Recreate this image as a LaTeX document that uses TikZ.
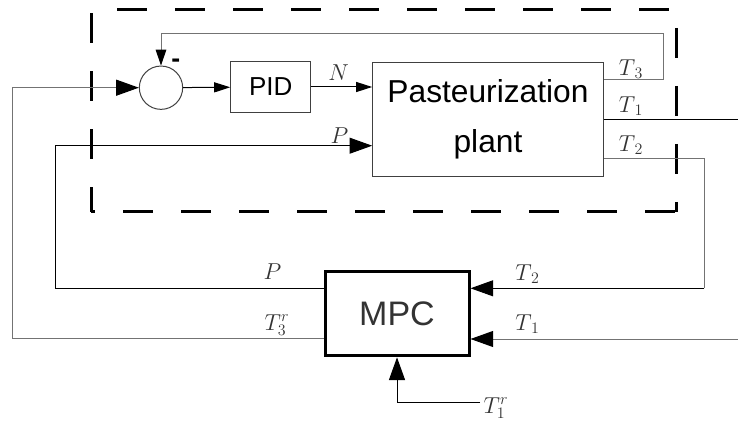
\documentclass[tikz,border=0pt]{standalone}
\usepackage{fontspec}
\setsansfont{Liberation Sans}
\usetikzlibrary{arrows.meta}

\tikzset{
  blk/.style={draw=black!75, line width=0.75pt, font=\sffamily},
  wire/.style={line width=0.75pt, draw=black},
  gwire/.style={line width=0.75pt, draw=black!55},
  bigtip/.style={-{Triangle[length=17pt,width=12pt,color=black]}},
  smalltip/.style={-{Triangle[length=12pt,width=7.5pt,color=black]}},
  lbl/.style={text=black!80, inner sep=0pt, font=\fontsize{16.5}{19}\selectfont},
  dashbox/.style={line width=2.25pt, dash pattern=on 22.5pt off 21pt},
}

\begin{document}
\begin{tikzpicture}[x=0.75pt,y=-0.75pt]
      \useasboundingbox (0,0) rectangle (738,424);

      % dashed frame round the inner loop
      \draw[dashbox, dash phase=24pt]   (91,9.3)   -- (676,9.3);
      \draw[dashbox, dash phase=29.5pt] (676,9.3)  -- (676,211.7);
      \draw[dashbox, dash phase=19.5pt] (91,211.7) -- (676,211.7);
      \draw[dashbox, dash phase=40.7pt] (91,9.3)   -- (91,211.7);

      % blocks
      \node[blk, circle, minimum size=32.5pt, inner sep=0pt] (sum) at (161,87.7) {};
      \node[font=\sffamily\bfseries\fontsize{20}{20}\selectfont, inner sep=0pt, anchor=base] (minus) at (175.7,67.5) {-};
      \node[blk, minimum width=60pt, minimum height=38pt,
            font=\sffamily\fontsize{19.5}{22}\selectfont] (pid) at (270.7,87) {PID};
      \node[blk, minimum width=173pt, minimum height=85.3pt, align=center,
            font=\sffamily\fontsize{23.8}{38}\selectfont] (plant) at (488,119.2) {Pasteurization\\plant};
      \node[blk, draw=black, line width=2.25pt, minimum width=108pt, minimum height=63.5pt, text=black!80,
            font=\sffamily\fontsize{25.5}{30}\selectfont] (mpc) at (397,313.5) {MPC};

      % turning points
      \coordinate (t3a)  at (663.3,80);
      \coordinate (t3b)  at (663.3,34);
      \coordinate (t1o)  at (738,119.2);
      \coordinate (t2a)  at (704.3,158.7);
      \coordinate (t2b)  at (704.3,288.3);
      \coordinate (t1i)  at (738,339);
      \coordinate (pa)   at (55,288.3);
      \coordinate (pb)   at (55,145.7);
      \coordinate (ra)   at (12.3,338.3);
      \coordinate (t1r)  at (480,402.3);

      % connectors
      \draw[wire, smalltip] (sum) -- (pid);
      \draw[wire, smalltip] (pid) -- (plant.west |- pid);
      \draw[gwire, -{Triangle[length=12pt,width=8pt,color=black]}] (plant.east |- t3a) -- (t3a) -- (t3b) -| (sum.north);
      \draw[wire] (plant.east) -- (t1o);
      \draw[gwire] (plant.east |- t2a) -- (t2a) -- (t2b);
      \draw[wire, bigtip] (t2b) -- (mpc.east |- t2b);
      \draw[gwire, bigtip] (t1i) -- (mpc.east |- t1i);
      \draw[wire, bigtip] (mpc.west |- pa) -- (pa) -- (pb) -- (plant.west |- pb);
      \draw[gwire, bigtip] (mpc.west |- ra) -- (ra) |- (sum.west);
      \draw[wire, bigtip] (t1r) -| (mpc.south);

      % signal labels
      \node[lbl] (lN)   at (338.5,72.5) {$N$};
      \node[lbl] (lP1)  at (339.5,135.5) {$P$};
      \node[lbl] (lT3)  at (631,69)    {$T_{\,3}$};
      \node[lbl] (lT1a) at (631,106)   {$T_{\,1}$};
      \node[lbl] (lT2a) at (631,145)   {$T_{\,2}$};
      \node[lbl] (lP2)  at (272.5,272) {$P$};
      \node[lbl] (lT3r) at (277,325)   {$T_3^r$};
      \node[lbl] (lT2b) at (527.5,274) {$T_{\,2}$};
      \node[lbl] (lT1b) at (527.5,324) {$T_{\,1}$};
      \node[lbl] (lT1r) at (496,408)   {$T_1^r$};

\end{tikzpicture}
\end{document}
